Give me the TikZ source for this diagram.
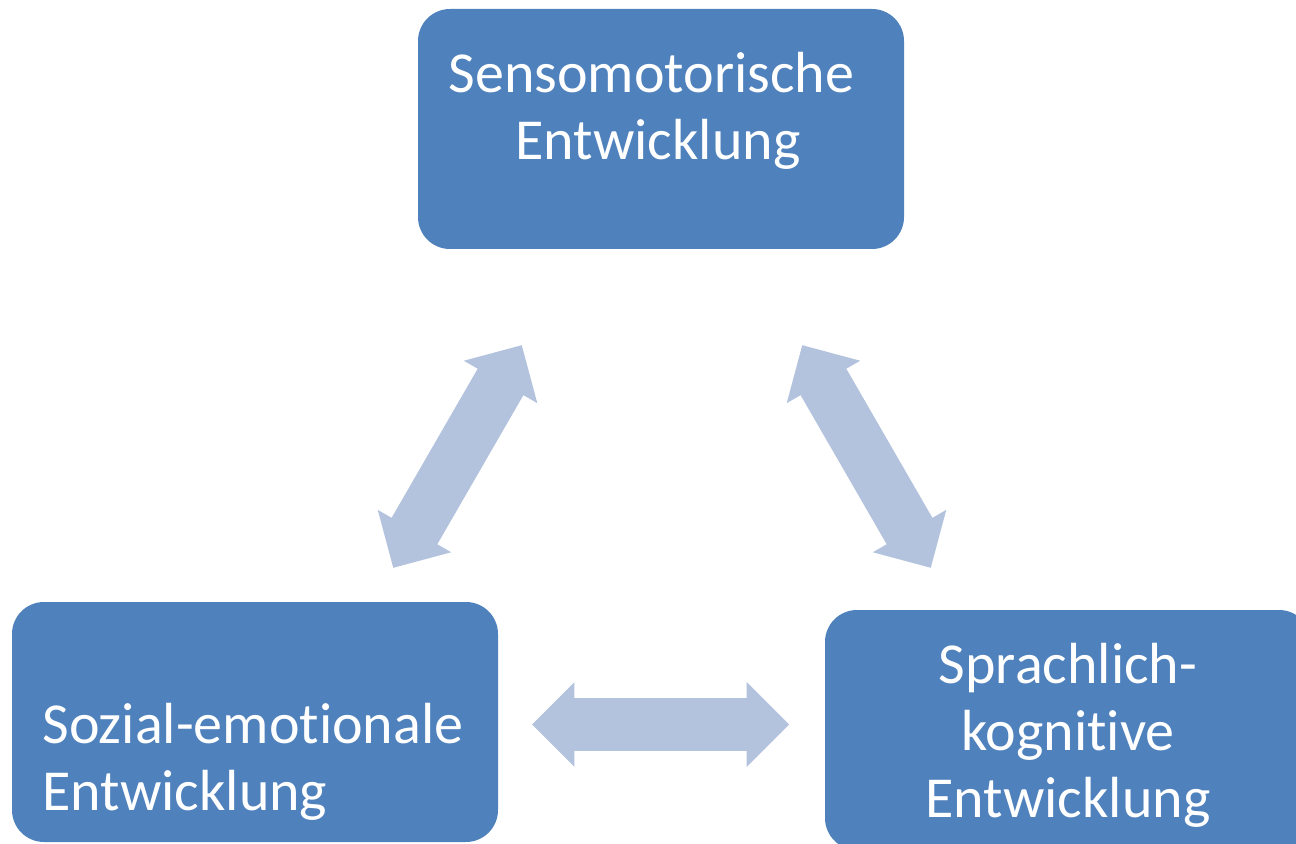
\documentclass[tikz,border=0pt]{standalone}
\usepackage{fontspec}
\setmainfont{Carlito}[Ligatures=NoCommon]
\usetikzlibrary{shapes.arrows}
\definecolor{boxblue}{HTML}{4F81BD}
\definecolor{arrowblue}{HTML}{B3C3DD}
\begin{document}
\begin{tikzpicture}[x=0.5pt, y=-0.5pt]

	%% The canvas
	\useasboundingbox[fill=white] (0,0) rectangle (1296,844);
	\clip (0,0) rectangle (1296,844);

	%% The three boxes
	\begin{scope}[every node/.style={rectangle, rounded corners=16pt, fill=boxblue, minimum width=243pt, minimum height=120pt, inner sep=0pt}]
		\node at ( 661,129) (senso) {};
		\node at ( 255,722) (sozial) {};
		\node at (1068,730) (sprach) {};
	\end{scope}

	%% The labels
	%% Placed by the baseline of their last line
	\begin{scope}[every node/.style={text=white, font=\fontsize{29}{33.5}\selectfont, inner sep=0pt}]
		\node[align=center, anchor=base] at ( 658,160) (senso-text) {Sensomotorische\hspace*{0.226em}\\Entwicklung};
		\node[align=left, anchor=base west] at (42,810) (sozial-text) {Sozial-emotionale\\Entwicklung};
		\node[align=center, anchor=base] at (1068,817) (sprach-text) {Sprachlich-\\kognitive\\Entwicklung};
	\end{scope}

	%% The arrows between the boxes
	%% Shaft width from inner ysep, head from minimum width
	\begin{scope}[every node/.style={double arrow, fill=arrowblue, minimum height=128.5pt, minimum width=42pt, double arrow head extend=8pt, inner xsep=0pt, inner ysep=13pt}]
		\node[rotate=60]  at (457.5,456.5) (senso-sozial) {};
		\node[rotate=-60] at (866.5,456.5) (senso-sprach) {};
		\node             at (660.5,724.5) (sozial-sprach) {};
	\end{scope}

\end{tikzpicture}
\end{document}
